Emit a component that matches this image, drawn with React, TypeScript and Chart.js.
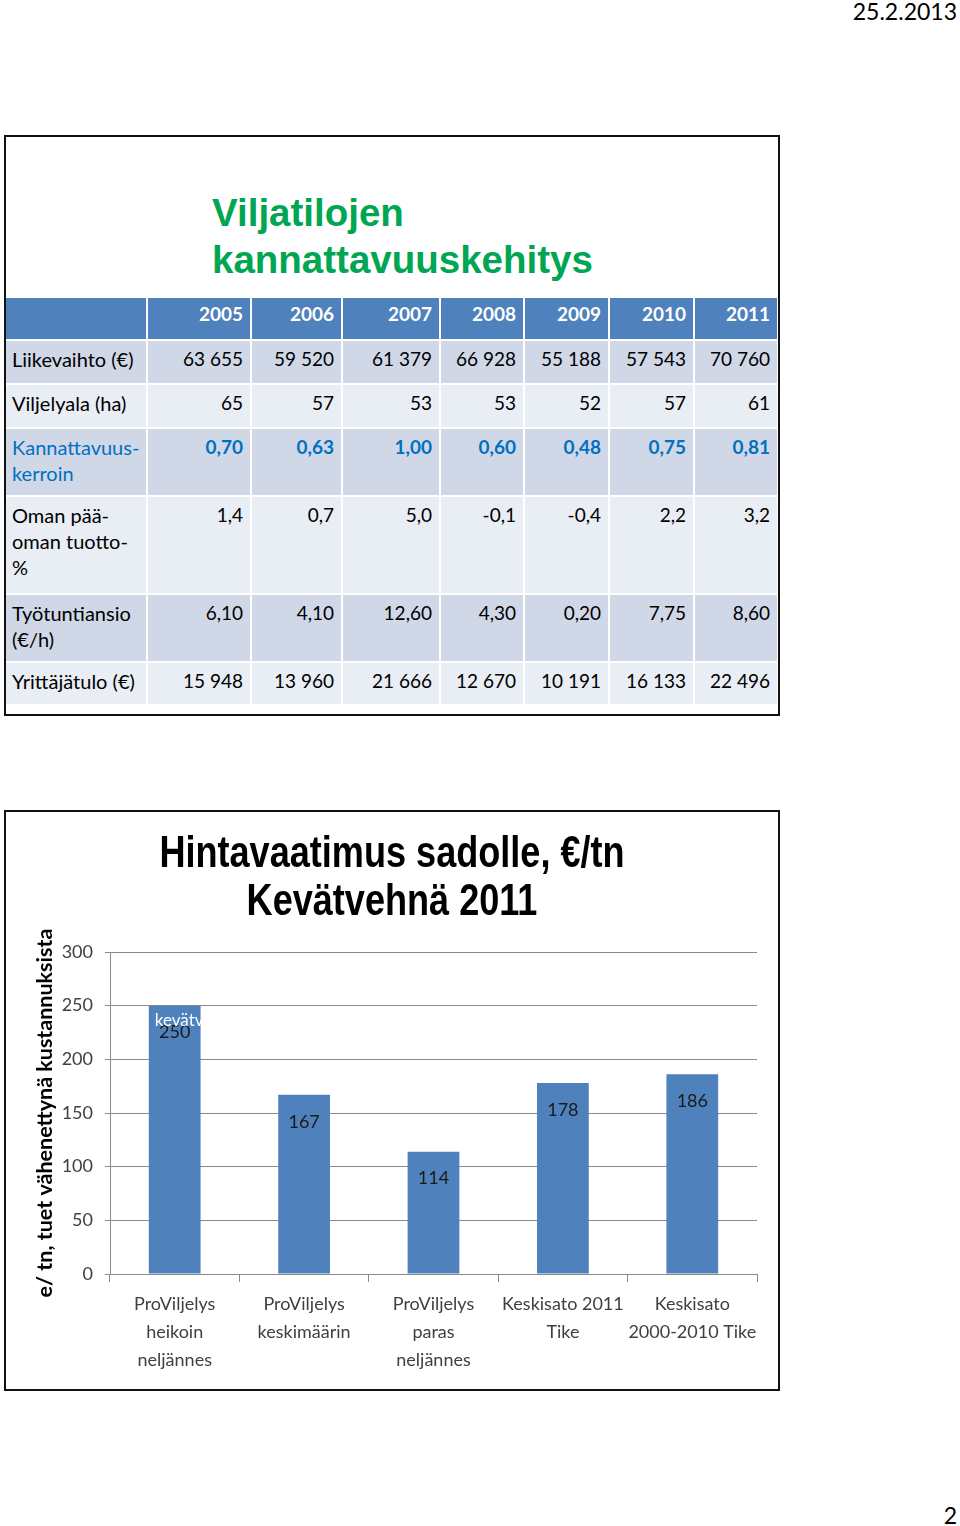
import React, { useEffect, useRef } from "react";
import { Chart, registerables } from "chart.js";

Chart.register(...registerables);

// ---------- Table data ----------
const years = ["2005", "2006", "2007", "2008", "2009", "2010", "2011"];
const rowLabels = [
  "Liikevaihto (€)",
  "Viljelyala (ha)",
  "Kannattavuus-\nkerroin",
  "Oman pää-\noman tuotto-\n%",
  "Työtuntiansio\n(€/h)",
  "Yrittäjätulo (€)",
];
const liikevaihto = ["63 655", "59 520", "61 379", "66 928", "55 188", "57 543", "70 760"];
const viljelyala = ["65", "57", "53", "53", "52", "57", "61"];
const kannattavuuskerroin = ["0,70", "0,63", "1,00", "0,60", "0,48", "0,75", "0,81"];
const omanPaaomanTuotto = ["1,4", "0,7", "5,0", "-0,1", "-0,4", "2,2", "3,2"];
const tyotuntiansio = ["6,10", "4,10", "12,60", "4,30", "0,20", "7,75", "8,60"];
const yrittajatulo = ["15 948", "13 960", "21 666", "12 670", "10 191", "16 133", "22 496"];

// ---------- Chart data ----------
const categories = [
  ["ProViljelys", "heikoin", "neljännes"],
  ["ProViljelys", "keskimäärin"],
  ["ProViljelys", "paras", "neljännes"],
  ["Keskisato 2011", "Tike"],
  ["Keskisato", "2000-2010 Tike"],
];
const hintavaatimus = [250, 167, 114, 178, 186];
const yAxisTitle = "e/ tn, tuet vähenettynä kustannuksista";
const hiddenLabel = "kevätvehnä";
const chartTitle = ["Hintavaatimus sadolle, €/tn", "Kevätvehnä 2011"];
const tableTitle = ["Viljatilojen", "kannattavuuskehitys"];

const BODY_FONT = "Lato, 'Open Sans', sans-serif";
const GRID = "#8a8a8a";

const colWidths = [142, 104, 91, 98, 84, 85, 85, 82];
const rowHeights = [43, 44, 44, 68, 98, 68, 43];

function DataTable() {
  const rows = [liikevaihto, viljelyala, kannattavuuskerroin, omanPaaomanTuotto, tyotuntiansio, yrittajatulo];
  const cell = (w: number, h: number, bg: string, last: boolean): React.CSSProperties => ({
    width: w,
    height: h,
    boxSizing: "border-box",
    background: bg,
    borderRight: last ? "none" : "2px solid #fff",
    borderBottom: "2px solid #fff",
    overflow: "hidden",
  });
  return (
    <div style={{ position: "absolute", left: 6, top: 298, fontFamily: BODY_FONT, fontSize: 19 }}>
      <div style={{ display: "flex" }}>
        {[""].concat(years).map((y, i) => (
          <div
            key={i}
            style={{
              ...cell(colWidths[i], rowHeights[0], "#4F81BD", i === 7),
              color: "#fff",
              fontWeight: "bold",
              textAlign: "right",
              paddingRight: 7,
              paddingTop: 3,
              lineHeight: "26px",
            }}
          >
            {y}
          </div>
        ))}
      </div>
      {rows.map((vals, r) => {
        const bg = r % 2 === 0 ? "#D0D8E8" : "#E9EDF4";
        const blue = r === 2;
        return (
          <div key={r} style={{ display: "flex" }}>
            <div
              style={{
                ...cell(colWidths[0], rowHeights[r + 1], bg, false),
                paddingLeft: 6,
                paddingTop: 5,
                lineHeight: "26px",
                fontSize: 20,
                whiteSpace: "pre-line",
                color: blue ? "#0070C0" : "#000",
              }}
            >
              {rowLabels[r]}
            </div>
            {vals.map((v, c) => (
              <div
                key={c}
                style={{
                  ...cell(colWidths[c + 1], rowHeights[r + 1], bg, c === 6),
                  textAlign: "right",
                  paddingRight: 7,
                  paddingTop: 5,
                  lineHeight: "26px",
                  whiteSpace: "nowrap",
                  color: blue ? "#0070C0" : "#000",
                  fontWeight: blue ? "bold" : "normal",
                }}
              >
                {v}
              </div>
            ))}
          </div>
        );
      })}
    </div>
  );
}

function PriceChart() {
  const ref = useRef<HTMLCanvasElement>(null);
  useEffect(() => {
    if (!ref.current) return;
    const valuePlugin = {
      id: "barValues",
      afterDatasetsDraw(chart: any) {
        const ctx = chart.ctx;
        const meta = chart.getDatasetMeta(0);
        ctx.save();
        ctx.font = "18px " + BODY_FONT;
        ctx.fillStyle = "#1a1a1a";
        ctx.textAlign = "center";
        ctx.textBaseline = "middle";
        meta.data.forEach((bar: any, i: number) => {
          ctx.fillText(String(hintavaatimus[i]), bar.x, bar.y + 27);
        });
        const b0 = meta.data[0];
        ctx.fillStyle = "#ffffff";
        ctx.textAlign = "left";
        ctx.font = "17px " + BODY_FONT;
        ctx.fillText(hiddenLabel, b0.x - b0.width / 2 + 6, b0.y + 15);
        ctx.restore();
      },
    };
    const chart = new Chart(ref.current, {
      type: "bar",
      data: {
        labels: categories,
        datasets: [
          {
            data: hintavaatimus,
            backgroundColor: "#4F81BD",
            barPercentage: 0.4,
            categoryPercentage: 1,
          },
        ],
      },
      options: {
        responsive: false,
        animation: false,
        layout: { padding: { left: 0, right: 20, top: 140, bottom: 4 } },
        plugins: { legend: { display: false }, tooltip: { enabled: false } },
        scales: {
          x: {
            grid: { display: true, drawOnChartArea: false, drawTicks: true, tickLength: 8, color: GRID, offset: true },
            border: { display: true, color: GRID },
            ticks: {
              color: "#404040",
              font: { family: BODY_FONT, size: 18, lineHeight: 1.56 },
              padding: 8,
              maxRotation: 0,
              autoSkip: false,
            },
            afterFit: (s: any) => {
              s.height = 110;
            },
          },
          y: {
            min: 0,
            max: 300,
            ticks: { stepSize: 50, color: "#404040", font: { family: BODY_FONT, size: 18 }, padding: 12 },
            grid: { color: GRID, tickLength: 5 },
            border: { display: true, color: GRID },
            title: {
              display: true,
              text: yAxisTitle,
              color: "#000",
              font: { family: BODY_FONT, size: 21.5, weight: "bold" },
              padding: { top: 25, bottom: 0 },
            },
            afterFit: (s: any) => {
              s.width = 103;
            },
          },
        },
      } as any,
      plugins: [valuePlugin],
    });
    return () => chart.destroy();
  }, []);
  return (
    <canvas
      ref={ref}
      width={770}
      height={576}
      style={{ position: "absolute", left: 7, top: 812, width: 770, height: 576 }}
    />
  );
}

export default function App() {
  return (
    <div
      style={{
        position: "absolute",
        left: 0,
        top: 0,
        width: 960,
        height: 1526,
        background: "#fff",
        overflow: "hidden",
        fontFamily: BODY_FONT,
      }}
    >
      <div style={{ position: "absolute", right: 3, top: -1, fontSize: 23, lineHeight: "24px", color: "#000" }}>
        25.2.2013
      </div>

      {/* Slide 1 */}
      <div
        style={{
          position: "absolute",
          left: 4,
          top: 135,
          width: 776,
          height: 581,
          boxSizing: "border-box",
          border: "2px solid #111",
        }}
      />
      <div
        style={{
          position: "absolute",
          left: 212,
          top: 189,
          fontFamily: "'Liberation Sans', Arial, sans-serif",
          fontWeight: "bold",
          fontSize: 38.5,
          lineHeight: "47px",
          color: "#00A651",
          whiteSpace: "nowrap",
        }}
      >
        {tableTitle[0]}
        <br />
        {tableTitle[1]}
      </div>
      <DataTable />

      {/* Slide 2 */}
      <div
        style={{
          position: "absolute",
          left: 4,
          top: 810,
          width: 776,
          height: 581,
          boxSizing: "border-box",
          border: "2px solid #111",
        }}
      />
      <PriceChart />
      <div
        style={{
          position: "absolute",
          left: 4,
          top: 828,
          width: 776,
          textAlign: "center",
          fontFamily: "'Liberation Sans', Arial, sans-serif",
          fontWeight: "bold",
          fontSize: 44,
          lineHeight: "48px",
          color: "#000",
          transform: "scaleX(0.82)",
          transformOrigin: "center",
          whiteSpace: "nowrap",
        }}
      >
        {chartTitle[0]}
        <br />
        {chartTitle[1]}
      </div>

      <div style={{ position: "absolute", right: 3, top: 1503, fontSize: 23, lineHeight: "24px", color: "#000" }}>2</div>
    </div>
  );
}
